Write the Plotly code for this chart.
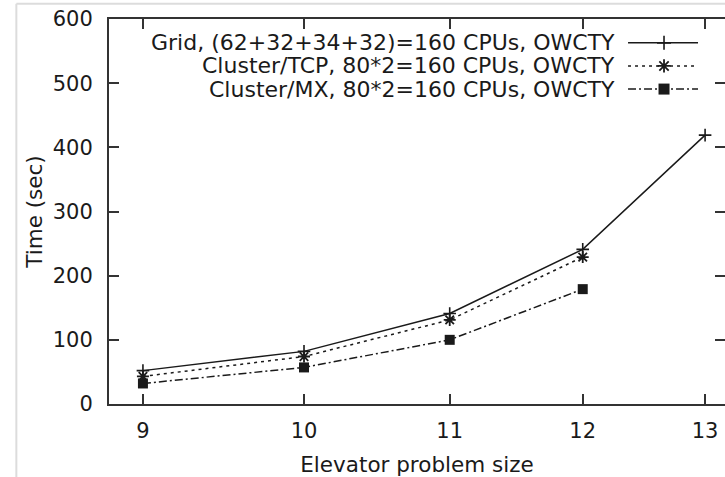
import plotly.graph_objects as go

# ---- data ----
problem_size = [9, 10, 11, 12, 13]
grid_time = [52, 82, 141, 241, 419]
tcp_time = [43, 74, 131, 229]
mx_time = [32, 57, 100, 179]

series_names = [
    "Grid, (62+32+34+32)=160 CPUs, OWCTY",
    "Cluster/TCP, 80*2=160 CPUs, OWCTY",
    "Cluster/MX, 80*2=160 CPUs, OWCTY",
]
y_ticks = [0, 100, 200, 300, 400, 500, 600]
x_ticks = [9, 10, 11, 12, 13]

FONT = "DejaVu Sans, Liberation Sans, Arial, sans-serif"
INK = "#1a1a1a"
AX = "#333333"

styles = [
    dict(dash="solid", symbol="cross-thin", msize=9, mline=1.6),
    dict(dash="3px,4px", symbol="asterisk", msize=10, mline=1.8),
    dict(dash="8px,3px,2px,3px", symbol="square", msize=10, mline=0),
]

fig = go.Figure()
for name, ys, st in zip(series_names, [grid_time, tcp_time, mx_time], styles):
    fig.add_trace(go.Scatter(
        x=problem_size[:len(ys)], y=ys, mode="lines+markers", name=name,
        line=dict(color=INK, width=1.5, dash=st["dash"]),
        marker=dict(symbol=st["symbol"], size=st["msize"], color=INK,
                    line=dict(color=INK, width=st["mline"])),
        showlegend=False, xaxis="x", yaxis="y"))

# ---- manual gnuplot-style key (text left, sample right) ----
key_rows_y = [0.938, 0.878, 0.818]
key_x0, key_x1, key_xm = 0.8426, 0.9562, 0.901
key_text_x = 0.825
for name, ky, st in zip(series_names, key_rows_y, styles):
    fig.add_trace(go.Scatter(
        x=[key_x0, key_x1], y=[ky, ky], mode="lines",
        line=dict(color=INK, width=1.5, dash=st["dash"]),
        showlegend=False, hoverinfo="skip", xaxis="x2", yaxis="y3"))
    fig.add_trace(go.Scatter(
        x=[key_xm], y=[ky], mode="markers",
        marker=dict(symbol=st["symbol"], size=st["msize"] + 1, color=INK,
                    line=dict(color=INK, width=st["mline"])),
        showlegend=False, hoverinfo="skip", xaxis="x2", yaxis="y3"))
    fig.add_annotation(x=key_text_x, y=ky, xref="paper", yref="paper",
                       text=name, showarrow=False, xanchor="right",
                       yanchor="middle",
                       font=dict(family=FONT, size=22, color=INK))

# ---- light gray outer frame of the picture ----
fig.add_shape(type="line", xref="paper", yref="paper",
              x0=-0.1504, x1=-0.1504, y0=1.0398, y1=-0.2,
              line=dict(color="#dcdcdc", width=2))
fig.add_shape(type="line", xref="paper", yref="paper",
              x0=-0.1504, x1=1.05, y0=1.0398, y1=1.0398,
              line=dict(color="#dcdcdc", width=2))

fig.update_layout(
    width=725, height=477,
    margin=dict(l=109, r=0, t=19, b=73),
    paper_bgcolor="white", plot_bgcolor="white",
    font=dict(family=FONT, size=21, color=INK),
    xaxis=dict(
        type="log", range=[0.9446, 1.1196],
        tickvals=x_ticks, ticktext=[str(v) for v in x_ticks],
        ticks="inside", ticklen=10, tickwidth=2, tickcolor=AX,
        showline=True, linewidth=2, linecolor=AX, mirror="ticks",
        showgrid=False, zeroline=False,
        ticklabelstandoff=7,
        title=dict(text="Elevator problem size", standoff=15,
                   font=dict(family=FONT, size=21.5, color=INK)),
        tickfont=dict(family=FONT, size=21, color=INK),
    ),
    yaxis=dict(
        range=[0, 600], tickvals=y_ticks,
        ticks="inside", ticklen=10, tickwidth=2, tickcolor=AX,
        showline=True, linewidth=2, linecolor=AX, mirror=False,
        showgrid=False, zeroline=False,
        ticklabelstandoff=10,
        title=dict(text="Time (sec)", standoff=4,
                   font=dict(family=FONT, size=21.5, color=INK)),
        tickfont=dict(family=FONT, size=21, color=INK),
    ),
    yaxis2=dict(
        overlaying="y", side="right", anchor="x", range=[0, 600],
        tickvals=y_ticks[1:-1], ticks="inside", ticklen=10, tickwidth=2,
        tickcolor=AX, showticklabels=False, showline=False,
        showgrid=False, zeroline=False,
    ),
    xaxis2=dict(overlaying="x", range=[0, 1], visible=False),
    yaxis3=dict(overlaying="y", range=[0, 1], visible=False),
)
# ensure right tick axis is drawn
fig.add_trace(go.Scatter(x=[None], y=[None], xaxis="x", yaxis="y2",
                         showlegend=False, hoverinfo="skip"))

fig.write_html("out.html")
